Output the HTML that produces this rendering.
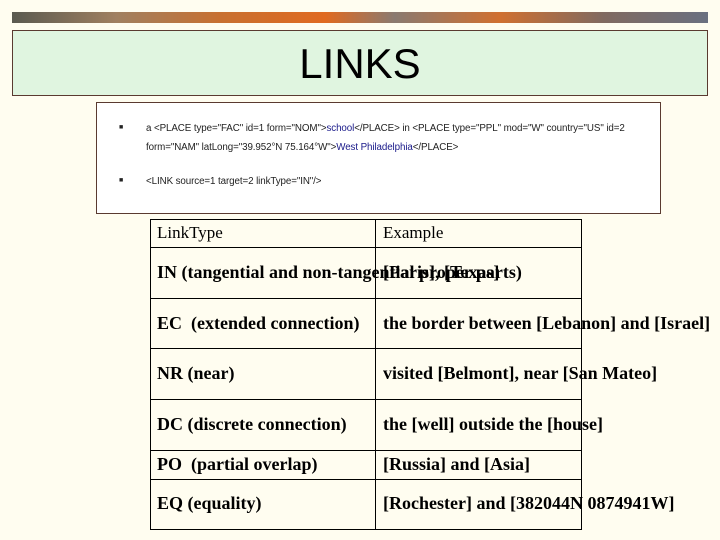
<!DOCTYPE html>
<html><head><style>
body{margin:0;width:720px;height:540px;background:#fffdf0;position:relative;overflow:hidden;font-family:"Liberation Sans",sans-serif}
.banner{position:absolute;left:12px;top:12px;width:696px;height:11px;background:linear-gradient(90deg,#5a5a50 0%,#a08060 15%,#c87030 30%,#e06a20 45%,#8a7a70 55%,#d07030 70%,#806a60 85%,#6a7080 100%)}
.title{position:absolute;left:12px;top:30px;width:694px;height:64px;background:#e0f5e0;border:1px solid #5a3a30;text-align:center;font-size:42px;line-height:66px;color:#000}
.box{position:absolute;left:96px;top:102px;width:563px;height:110px;background:#fff;border:1px solid #5a3a30;font-size:9.8px;color:#222}
.box div{position:absolute;left:49px;white-space:nowrap;letter-spacing:-0.1px}
.box span.b{position:absolute;left:22px;font-size:7px}
.blue{color:#1a1a8a}
.h{position:absolute;left:150px;width:432px;height:1px;background:#000}
.v{position:absolute;top:219px;width:1px;height:311px;background:#000}
.t{position:absolute;font-family:"Liberation Serif",serif;font-size:18px;white-space:nowrap;line-height:20px;color:#000}
.t.bd{font-weight:bold}
</style></head><body>
<div class="banner"></div>
<div class="title">LINKS</div>
<div class="box">
<span class="b" style="top:21px">■</span>
<div style="top:20px">a &lt;PLACE type="FAC" id=1 form="NOM"&gt;<span class="blue">school</span>&lt;/PLACE&gt; in &lt;PLACE type="PPL" mod="W" country="US" id=2</div>
<div style="top:39px">form="NAM" latLong="39.952°N 75.164°W"&gt;<span class="blue">West Philadelphia</span>&lt;/PLACE&gt;</div>
<span class="b" style="top:74px">■</span>
<div style="top:73px">&lt;LINK source=1 target=2 linkType="IN"/&gt;</div>
</div>
<div class="h" style="top:219px"></div>
<div class="h" style="top:247px"></div>
<div class="h" style="top:298px"></div>
<div class="h" style="top:348px"></div>
<div class="h" style="top:399px"></div>
<div class="h" style="top:450px"></div>
<div class="h" style="top:479px"></div>
<div class="h" style="top:529px"></div>
<div class="v" style="left:150px"></div>
<div class="v" style="left:375px"></div>
<div class="v" style="left:581px"></div>
<div class="t" style="left:157px;top:223px;font-size:17px">LinkType</div>
<div class="t" style="left:383px;top:223px;font-size:17px">Example</div>
<div class="t bd" style="left:157px;top:262px">IN (tangential and non-tangential proper parts)</div>
<div class="t bd" style="left:383px;top:262px">[Paris], [Texas]</div>
<div class="t bd" style="left:157px;top:313px">EC&nbsp; (extended connection)</div>
<div class="t bd" style="left:383px;top:313px">the border between [Lebanon] and [Israel]</div>
<div class="t bd" style="left:157px;top:363px">NR (near)</div>
<div class="t bd" style="left:383px;top:363px">visited [Belmont], near [San Mateo]</div>
<div class="t bd" style="left:157px;top:414px">DC (discrete connection)</div>
<div class="t bd" style="left:383px;top:414px">the [well] outside the [house]</div>
<div class="t bd" style="left:157px;top:454px">PO&nbsp; (partial overlap)</div>
<div class="t bd" style="left:383px;top:454px">[Russia] and [Asia]</div>
<div class="t bd" style="left:157px;top:493px">EQ (equality)</div>
<div class="t bd" style="left:383px;top:493px">[Rochester] and [382044N 0874941W]</div>
</body></html>
